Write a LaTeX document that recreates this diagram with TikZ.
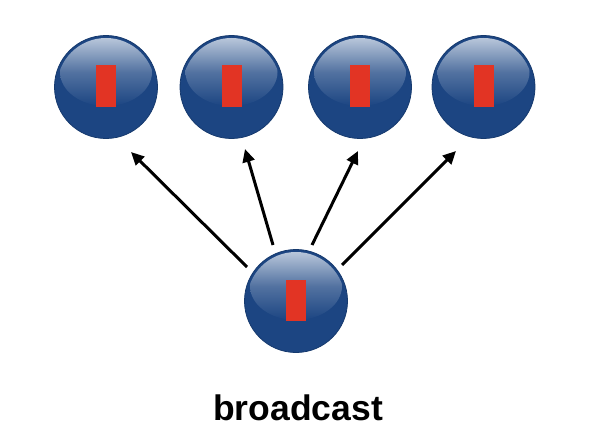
\documentclass[tikz,border=0pt]{standalone}
\usepackage{fontspec}
\setmainfont{Liberation Sans}
\usetikzlibrary{arrows.meta,calc}
\definecolor{ballblue}{HTML}{1C4582}
\definecolor{balledge}{HTML}{163A6E}
\definecolor{glossy}{HTML}{B8C6DA}
\definecolor{plugred}{HTML}{E23424}
\tikzset{
  ball/.style={circle, minimum size=103pt, inner sep=0pt, fill=ballblue, draw=balledge, line width=0.8pt},
  plug/.style={fill=plugred, draw=none},
  cast/.style={line width=3pt, -{Triangle[length=13pt,width=12pt]}, black},
  caption/.style={font=\bfseries\fontsize{35.5}{40}\selectfont, inner sep=0pt}
}
\newcommand{\glossball}[2]{%
  \node[ball] (#1) at #2 {};
  \begin{scope}
    \clip (#1.center) circle (49pt);
    \shade[top color=glossy, bottom color=ballblue, middle color=ballblue!65!glossy]
      ($(#1.center)+(0,-15)$) ellipse (46pt and 34pt);
  \end{scope}
  \fill[plug] ($(#1.center)+(-10,-21.5)$) rectangle ($(#1.center)+(10,20)$);
}
\begin{document}
\begin{tikzpicture}[x=1pt,y=-1pt]
\useasboundingbox (0,0) rectangle (592,444);
\glossball{t1}{(106,87)}
\glossball{t2}{(231.5,87)}
\glossball{t3}{(360,87)}
\glossball{t4}{(483.5,87)}
\glossball{b}{(296,301)}
\coordinate (s1) at (247,267);
\coordinate (s2) at (273,245);
\coordinate (s3) at (312,245);
\coordinate (s4) at (342,265);
\coordinate (e1) at (131,152);
\coordinate (e2) at (245,149);
\coordinate (e3) at (358,151);
\coordinate (e4) at (456,151);
\draw[cast] (s1) -- (e1);
\draw[cast] (s2) -- (e2);
\draw[cast] (s3) -- (e3);
\draw[cast] (s4) -- (e4);
\node[caption] (cap) at (298,408) {broadcast};
\end{tikzpicture}
\end{document}
